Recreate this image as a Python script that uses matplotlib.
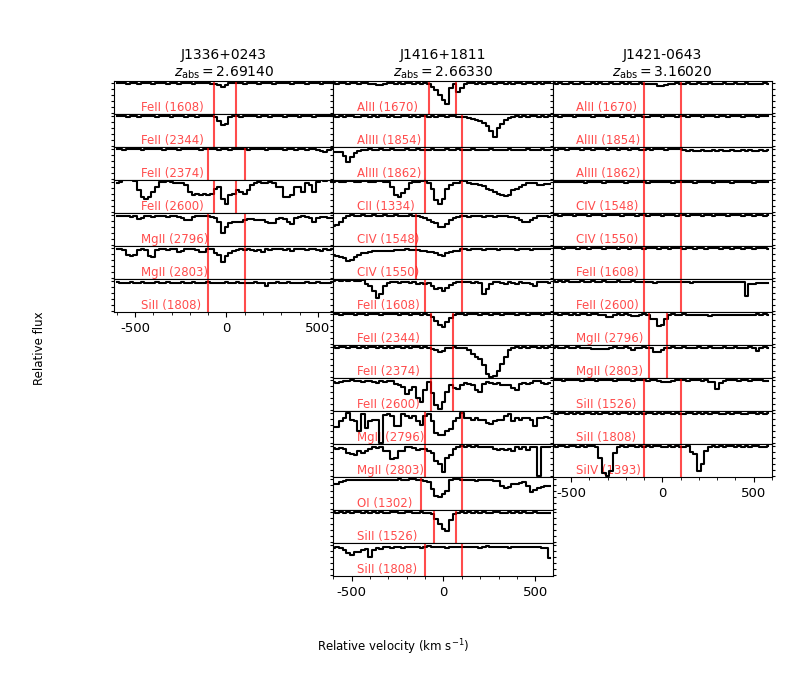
import numpy as np
import matplotlib.pyplot as plt
from matplotlib.ticker import MultipleLocator

plt.rcParams['axes.unicode_minus'] = False

# velocity grid of the binned spectra (km/s)
vel = np.arange(-600, 600, 20)

qso_names = ['J1336+0243', 'J1416+1811', 'J1421-0643']
z_abs = ['2.69140', '2.66330', '3.16020']

# ---------------- J1336+0243 ----------------
ions_j1336 = ['FeII (1608)', 'FeII (2344)', 'FeII (2374)', 'FeII (2600)',
              'MgII (2796)', 'MgII (2803)', 'SiII (1808)']
vint_j1336 = [(-70, 50), (-70, 50), (-100, 100), (-70, 50),
              (-100, 100), (-100, 100), (-100, 100)]
flux_j1336 = [
    # FeII 1608
    [1.01, 1.00, 1.02, 0.99, 1.01, 1.00, 0.98, 1.01, 1.02, 1.00,
     0.99, 1.01, 1.00, 1.02, 0.99, 1.00, 1.01, 0.99, 1.00, 1.02,
     1.01, 0.99, 1.00, 1.01, 1.02, 1.00, 0.99, 0.98, 0.96, 0.88,
     0.95, 1.01, 1.00, 1.02, 1.01, 0.99, 1.00, 1.01, 1.00, 0.99,
     1.01, 1.02, 1.00, 0.99, 1.01, 1.00, 1.02, 1.01, 0.99, 1.00,
     1.01, 1.00, 0.99, 1.01, 1.02, 1.00, 0.98, 1.00, 1.01, 1.00],
    # FeII 2344
    [1.02, 1.00, 1.01, 0.99, 1.02, 1.01, 0.99, 1.00, 1.01, 1.02,
     1.00, 0.98, 1.01, 1.00, 1.02, 0.99, 1.01, 1.00, 1.01, 0.99,
     1.02, 1.00, 0.99, 1.01, 1.00, 1.02, 1.00, 0.99, 0.86, 0.70,
     0.74, 0.97, 1.00, 1.01, 0.99, 1.01, 1.00, 1.02, 1.00, 0.99,
     1.01, 1.00, 0.98, 1.00, 1.01, 1.00, 0.99, 1.01, 1.02, 1.00,
     0.99, 1.00, 1.01, 1.00, 0.98, 1.01, 1.00, 1.02, 1.00, 1.01],
    # FeII 2374
    [1.01, 1.00, 0.99, 1.01, 1.02, 1.00, 1.01, 0.99, 1.00, 1.01,
     1.00, 1.02, 1.01, 0.99, 1.00, 1.01, 1.00, 0.99, 1.01, 1.00,
     1.02, 1.01, 1.00, 0.99, 1.01, 1.00, 1.02, 1.00, 0.98, 1.00,
     1.01, 0.99, 1.00, 1.02, 1.01, 1.00, 0.99, 1.01, 1.00, 1.01,
     1.00, 0.99, 1.01, 1.00, 1.02, 1.00, 0.99, 1.01, 1.00, 0.98,
     1.00, 1.01, 0.99, 1.00, 1.01, 0.99, 0.95, 0.90, 0.99, 1.01],
    # FeII 2600
    [0.965, 1.02, 1.08, 1.08, 1.08, 1.045, 0.73, 0.50, 0.445, 0.50,
     0.68, 0.85, 1.02, 1.02, 1.045, 1.02, 0.99, 0.99, 0.965, 0.91,
     0.68, 0.56, 0.62, 0.56, 0.595, 0.56, 0.62, 0.79, 0.85, 0.445,
     0.27, 0.56, 0.62, 0.73, 0.68, 0.62, 0.73, 0.91, 0.965, 1.02,
     0.99, 0.965, 1.02, 0.965, 0.85, 0.85, 0.50, 0.50, 0.56, 0.85,
     0.85, 0.68, 0.965, 0.91, 0.68, 1.02, 1.08, 1.045, 1.08, 1.02],
    # MgII 2796
    [0.965, 0.99, 0.965, 0.965, 0.94, 0.965, 0.87, 0.91, 0.99, 0.965,
     0.94, 0.99, 0.965, 0.99, 0.94, 0.965, 0.99, 0.94, 0.91, 0.85,
     0.85, 0.94, 0.965, 0.965, 0.99, 0.965, 0.94, 0.91, 0.76, 0.41,
     0.62, 0.73, 0.76, 0.79, 0.79, 0.85, 0.87, 0.87, 0.85, 0.83,
     0.85, 0.79, 0.73, 0.73, 0.87, 0.91, 0.87, 0.79, 0.71, 0.91,
     0.94, 0.965, 0.94, 0.91, 0.79, 0.91, 0.94, 0.94, 0.91, 0.91],
    # MgII 2803
    [0.965, 0.99, 0.94, 0.76, 0.73, 0.79, 0.94, 0.965, 0.94, 0.73,
     0.71, 0.94, 0.99, 0.965, 0.94, 0.965, 0.99, 0.87, 0.91, 0.99,
     0.965, 0.99, 0.94, 0.87, 0.87, 0.965, 0.99, 0.83, 0.76, 0.525,
     0.73, 0.85, 0.91, 0.94, 0.965, 0.94, 0.965, 0.94, 0.91, 0.94,
     0.87, 0.965, 0.94, 0.965, 0.99, 0.965, 0.94, 0.965, 0.91, 0.965,
     0.99, 0.965, 0.94, 0.965, 0.99, 0.94, 0.895, 0.965, 0.94, 0.965],
    # SiII 1808
    [0.97, 0.95, 0.96, 0.94, 0.97, 0.96, 0.95, 0.97, 0.96, 0.94,
     0.96, 0.97, 0.95, 0.96, 0.97, 0.94, 0.96, 0.95, 0.97, 0.96,
     0.95, 0.97, 0.96, 0.94, 0.96, 0.97, 0.95, 0.96, 0.94, 0.96,
     0.97, 0.95, 0.96, 0.97, 0.95, 0.96, 0.94, 0.96, 0.97, 0.95,
     0.93, 0.86, 0.94, 0.96, 0.97, 0.95, 0.96, 0.97, 0.95, 0.96,
     0.94, 0.96, 0.97, 0.95, 0.96, 0.97, 0.94, 0.96, 0.95, 0.97],
]

# ---------------- J1416+1811 ----------------
ions_j1416 = ['AlII (1670)', 'AlIII (1854)', 'AlIII (1862)', 'CII (1334)',
              'CIV (1548)', 'CIV (1550)', 'FeII (1608)', 'FeII (2344)',
              'FeII (2374)', 'FeII (2600)', 'MgII (2796)', 'MgII (2803)',
              'OI (1302)', 'SiII (1526)', 'SiII (1808)']
vint_j1416 = [(-80, 70), (-100, 100), (-100, 100), (-100, 100),
              (-150, 100), (-150, 100), (-100, 100), (-70, 50),
              (-70, 50), (-70, 50), (-100, 100), (-100, 100),
              (-120, 100), (-50, 70), (-100, 100)]
flux_j1416 = [
    # AlII 1670
    [1.00, 0.99, 1.01, 1.00, 0.98, 1.00, 1.01, 0.99, 1.00, 1.01,
     0.98, 0.99, 0.96, 0.95, 0.99, 1.00, 1.01, 0.99, 1.00, 0.98,
     1.00, 1.01, 0.99, 1.00, 0.98, 1.00, 0.99, 0.88, 0.76, 0.62,
     0.45, 0.31, 0.85, 0.99, 0.71, 0.83, 0.99, 1.00, 1.01, 0.99,
     1.00, 0.98, 1.00, 1.01, 0.99, 1.00, 1.01, 0.98, 1.00, 0.99,
     1.01, 1.00, 0.99, 1.00, 1.01, 0.99, 1.00, 0.98, 1.00, 1.01],
    # AlIII 1854
    [1.00, 0.99, 1.01, 0.98, 1.00, 1.01, 0.99, 0.98, 1.00, 1.01,
     0.99, 1.00, 0.98, 1.00, 1.01, 0.99, 1.00, 0.98, 0.99, 1.01,
     1.00, 0.98, 1.00, 0.99, 1.01, 1.00, 0.98, 1.00, 0.99, 1.00,
     1.01, 0.99, 1.00, 1.01, 0.99, 0.98, 0.965, 0.94, 0.91, 0.87,
     0.83, 0.76, 0.68, 0.50, 0.29, 0.62, 0.73, 0.87, 0.94, 0.99,
     1.00, 0.98, 1.00, 0.99, 1.01, 1.00, 0.99, 1.00, 0.98, 1.00],
    # AlIII 1862
    [0.91, 0.92, 0.90, 0.79, 0.56, 0.73, 0.87, 0.94, 0.97, 0.99,
     1.00, 0.98, 0.99, 1.00, 0.97, 0.99, 1.00, 0.98, 0.99, 0.97,
     1.00, 0.99, 0.98, 1.00, 0.99, 0.97, 0.99, 1.00, 0.98, 0.99,
     0.97, 1.00, 0.99, 0.98, 1.00, 0.99, 0.97, 0.99, 1.00, 0.98,
     0.99, 0.97, 0.99, 1.00, 0.98, 0.99, 0.97, 0.99, 1.00, 0.98,
     0.99, 0.97, 0.99, 1.00, 0.98, 0.99, 0.98, 1.00, 0.99, 0.98],
    # CII 1334
    [1.02, 1.03, 1.00, 1.02, 1.04, 1.03, 1.01, 1.02, 1.03, 1.04,
     1.02, 1.01, 1.03, 1.04, 1.02, 1.01, 0.83, 0.56, 0.50, 0.64,
     0.79, 0.99, 1.02, 1.02, 1.045, 1.045, 0.99, 0.79, 0.39, 0.25,
     0.445, 0.79, 0.91, 0.965, 0.99, 1.045, 1.045, 0.99, 0.94, 0.94,
     0.91, 0.87, 0.79, 0.73, 0.68, 0.62, 0.56, 0.525, 0.56, 0.73,
     0.79, 0.83, 0.91, 0.965, 0.99, 0.965, 0.91, 0.91, 0.94, 0.94],
    # CIV 1548
    [0.65, 0.68, 0.79, 0.91, 0.965, 1.00, 0.99, 0.97, 1.00, 0.98,
     0.99, 1.01, 0.98, 0.99, 1.00, 0.97, 0.99, 1.00, 0.98, 0.99,
     0.97, 1.00, 0.98, 0.99, 0.94, 0.91, 0.85, 0.79, 0.73, 0.62,
     0.595, 0.71, 0.83, 0.91, 0.94, 0.97, 0.99, 0.96, 0.98, 0.99,
     0.97, 0.95, 0.98, 0.99, 0.96, 0.98, 0.97, 0.99, 0.96, 0.95,
     0.91, 0.83, 0.79, 0.76, 0.83, 0.91, 0.965, 0.99, 0.965, 0.94],
    # CIV 1550
    [0.76, 0.73, 0.71, 0.68, 0.56, 0.595, 0.71, 0.76, 0.83, 0.85,
     0.87, 0.895, 0.91, 0.895, 0.92, 0.91, 0.92, 0.93, 0.94, 0.94,
     0.965, 0.95, 0.94, 0.94, 0.92, 0.91, 0.87, 0.87, 0.83, 0.76,
     0.73, 0.83, 0.87, 0.91, 0.91, 0.97, 0.99, 0.96, 0.98, 0.97,
     0.99, 0.96, 0.98, 0.99, 0.97, 0.96, 0.98, 0.99, 0.97, 0.98,
     0.96, 0.99, 0.97, 0.98, 0.96, 0.99, 0.97, 0.98, 0.99, 0.97],
    # FeII 1608
    [1.02, 1.04, 1.00, 1.03, 1.01, 1.04, 1.02, 1.00, 1.03, 0.91,
     0.83, 0.68, 0.445, 0.56, 0.85, 0.94, 0.99, 0.965, 0.94, 0.99,
     0.965, 0.94, 0.965, 0.91, 0.94, 0.91, 0.94, 0.85, 0.73, 0.79,
     0.68, 0.76, 0.87, 0.94, 0.965, 0.99, 0.965, 0.99, 0.94, 0.965,
     0.94, 0.56, 0.73, 0.91, 0.965, 0.99, 0.94, 0.91, 0.965, 0.94,
     0.92, 0.965, 0.94, 0.94, 0.91, 0.83, 0.965, 0.99, 0.965, 0.94],
    # FeII 2344
    [1.00, 1.01, 0.99, 1.00, 1.02, 1.00, 0.99, 1.01, 1.00, 0.98,
     1.00, 1.01, 1.00, 0.99, 1.01, 1.00, 1.02, 1.00, 0.99, 1.01,
     1.00, 0.99, 1.01, 1.00, 0.99, 1.01, 0.99, 0.91, 0.79, 0.64,
     0.56, 0.73, 0.87, 0.99, 1.00, 1.01, 0.99, 1.00, 1.01, 1.00,
     0.99, 1.01, 1.00, 0.98, 1.00, 1.01, 0.99, 1.00, 1.01, 1.00,
     0.99, 1.00, 1.01, 0.99, 1.00, 1.01, 1.00, 0.99, 1.01, 1.00],
    # FeII 2374
    [1.00, 0.99, 1.01, 1.00, 0.98, 1.00, 1.01, 0.99, 1.00, 0.98,
     1.00, 1.01, 0.99, 1.00, 0.98, 1.00, 0.99, 1.01, 1.00, 0.99,
     1.00, 0.98, 1.00, 1.01, 0.99, 1.00, 0.98, 0.94, 0.91, 0.85,
     0.87, 0.965, 0.99, 1.00, 0.99, 0.99, 0.965, 0.91, 0.76, 0.68,
     0.595, 0.41, 0.10, -0.02, 0.02, 0.215, 0.445, 0.68, 0.91, 0.99,
     1.00, 0.98, 1.00, 0.99, 1.01, 1.00, 0.99, 1.00, 0.98, 1.00],
    # FeII 2600
    [0.94, 0.92, 0.94, 0.965, 0.965, 1.01, 0.965, 0.99, 0.94, 0.965,
     0.99, 0.94, 0.91, 0.965, 0.94, 0.99, 0.965, 0.87, 0.85, 0.79,
     0.525, 0.68, 0.79, 0.39, 0.25, 0.68, 0.94, 0.56, 0.16, 0.02,
     0.27, 0.62, 0.83, 0.73, 0.71, 0.85, 0.91, 0.87, 0.85, 0.68,
     0.595, 0.87, 0.94, 0.91, 0.87, 0.895, 0.85, 0.83, 0.85, 0.73,
     0.68, 0.87, 0.91, 0.87, 0.91, 0.965, 0.99, 0.91, 0.87, 0.91],
    # MgII 2796
    [0.54, 0.54, 0.73, 0.85, 1.02, 0.79, 0.73, 0.39, 0.965, 0.50,
     0.73, 0.76, 0.79, -0.02, 0.94, 0.965, 0.91, 0.56, 0.56, 0.99,
     0.91, 0.85, 0.91, 0.73, 0.595, 0.91, 0.99, 0.73, 0.33, 0.25,
     0.27, 0.41, 0.48, 0.73, 0.85, 1.02, 0.83, 0.83, 0.79, 0.83,
     0.79, 0.76, 0.68, 0.64, 0.73, 0.76, 0.79, 0.91, 0.99, 0.73,
     0.83, 0.79, 0.85, 0.83, 0.79, 0.56, 0.83, 0.85, 0.87, 0.85],
    # MgII 2803
    [0.94, 0.91, 0.94, 0.91, 0.79, 0.73, 0.71, 0.83, 0.79, 0.85,
     0.91, 0.965, 0.94, 0.965, 0.85, 0.83, 0.56, 0.62, 0.83, 0.85,
     0.965, 0.99, 0.94, 0.87, 0.91, 0.92, 0.85, 0.79, 0.50, 0.39,
     0.135, 0.62, 0.71, 0.91, 0.99, 1.01, 0.99, 1.02, 0.99, 1.01,
     0.99, 0.965, 0.99, 0.965, 0.91, 0.87, 0.91, 0.87, 0.91, 0.85,
     0.965, 0.91, 0.99, 0.87, 0.965, 0.965, -0.02, 0.965, 0.99, 0.965],
    # OI 1302
    [0.83, 0.83, 0.91, 0.94, 0.965, 0.99, 0.99, 0.965, 0.99, 0.99,
     0.965, 0.99, 0.99, 0.99, 0.965, 0.99, 0.99, 0.99, 1.01, 0.99,
     0.99, 1.01, 1.01, 0.99, 0.965, 0.94, 0.91, 0.68, 0.445, 0.41,
     0.50, 0.62, 0.965, 1.01, 1.02, 0.99, 0.99, 0.965, 0.965, 0.94,
     0.965, 0.99, 0.965, 0.965, 0.94, 0.94, 0.76, 0.71, 0.73, 0.83,
     0.85, 0.87, 0.91, 0.76, 0.56, 0.64, 0.71, 0.73, 0.76, 0.76],
    # SiII 1526
    [1.00, 0.98, 1.01, 0.99, 1.00, 0.97, 1.00, 1.01, 0.98, 1.00,
     0.99, 1.01, 0.98, 1.00, 0.99, 0.97, 1.00, 1.01, 0.99, 0.98,
     1.00, 1.01, 0.99, 0.98, 1.00, 0.99, 0.97, 0.94, 0.76, 0.62,
     0.445, 0.365, 0.73, 0.94, 0.99, 1.00, 0.98, 1.01, 0.99, 1.00,
     0.98, 1.01, 0.99, 0.97, 1.00, 1.01, 0.99, 0.98, 1.00, 0.99,
     1.01, 0.98, 1.00, 0.99, 0.97, 1.00, 0.99, 0.98, 0.97, 0.99],
    # SiII 1808
    [0.91, 0.94, 0.91, 0.83, 0.73, 0.68, 0.76, 0.79, 0.83, 0.87,
     0.62, 0.83, 0.91, 0.87, 0.93, 0.95, 0.92, 0.96, 0.94, 0.92,
     0.95, 0.93, 0.96, 0.94, 0.92, 0.95, 0.97, 0.94, 0.93, 0.96,
     0.94, 0.92, 0.95, 0.93, 0.96, 0.94, 0.95, 0.93, 0.96, 0.94,
     0.92, 0.95, 0.97, 0.94, 0.93, 0.95, 0.96, 0.94, 0.92, 0.95,
     0.93, 0.96, 0.94, 0.95, 0.93, 0.96, 0.94, 0.92, 0.90, 0.56],
]

# ---------------- J1421-0643 ----------------
ions_j1421 = ['AlII (1670)', 'AlIII (1854)', 'AlIII (1862)', 'CIV (1548)',
              'CIV (1550)', 'FeII (1608)', 'FeII (2600)', 'MgII (2796)',
              'MgII (2803)', 'SiII (1526)', 'SiII (1808)', 'SiIV (1393)']
vint_j1421 = [(-100, 100)] * 7 + [(-75, 25), (-75, 25)] + [(-100, 100)] * 3
flux_j1421 = [
    # AlII 1670
    [1.00, 0.99, 1.00, 0.98, 0.99, 1.00, 0.99, 0.98, 1.00, 0.99,
     0.98, 1.00, 0.99, 1.00, 0.98, 0.99, 1.00, 0.99, 0.98, 1.00,
     0.99, 1.00, 0.98, 0.99, 1.00, 0.99, 0.98, 0.99, 0.97, 0.92,
     0.91, 0.93, 0.98, 0.99, 1.00, 0.99, 0.98, 1.00, 0.99, 0.98,
     1.00, 0.99, 0.98, 1.00, 0.99, 0.97, 0.99, 1.00, 0.98, 0.99,
     1.00, 0.98, 0.99, 1.00, 0.99, 0.98, 0.97, 0.99, 1.00, 0.99],
    # AlIII 1854
    [1.00, 1.01, 0.99, 1.00, 1.01, 1.00, 0.99, 1.01, 1.00, 1.00,
     1.01, 0.99, 1.00, 1.01, 1.00, 0.99, 1.00, 1.01, 1.00, 0.99,
     1.01, 1.00, 0.99, 1.00, 1.01, 0.99, 0.98, 1.00, 1.01, 1.00,
     0.99, 1.00, 1.01, 1.00, 0.99, 1.01, 1.00, 0.99, 1.00, 1.01,
     1.00, 0.99, 1.01, 1.00, 1.00, 0.99, 1.01, 1.00, 0.99, 1.00,
     1.01, 1.00, 0.99, 1.00, 1.01, 1.00, 0.99, 1.00, 1.01, 1.00],
    # AlIII 1862
    [1.00, 0.99, 1.01, 1.00, 0.99, 1.00, 1.01, 1.00, 0.99, 1.00,
     1.01, 0.99, 1.00, 1.00, 1.01, 0.99, 1.00, 1.01, 0.99, 1.00,
     1.00, 0.99, 1.01, 1.00, 0.98, 0.99, 1.00, 0.99, 1.00, 1.01,
     1.00, 0.99, 1.00, 1.01, 1.00, 1.02, 0.97, 0.96, 0.97, 0.95,
     0.96, 0.97, 0.96, 0.95, 0.97, 0.96, 0.97, 0.95, 0.96, 0.97,
     0.96, 0.95, 0.97, 0.96, 0.97, 0.96, 0.95, 0.97, 0.96, 0.97],
    # CIV 1548
    [1.01, 1.00, 1.02, 1.01, 1.00, 1.01, 1.02, 1.00, 1.01, 0.99,
     1.01, 1.02, 1.00, 1.01, 0.99, 1.01, 1.02, 1.00, 1.01, 1.00,
     0.98, 1.01, 1.00, 1.02, 1.01, 1.00, 0.99, 1.01, 1.00, 1.02,
     1.01, 1.00, 1.01, 0.99, 1.01, 1.02, 1.00, 1.01, 1.00, 0.99,
     1.01, 1.02, 1.00, 1.01, 0.99, 1.01, 1.00, 1.02, 1.01, 0.99,
     1.00, 1.01, 1.02, 1.00, 1.01, 0.99, 1.01, 1.00, 1.02, 1.01],
    # CIV 1550
    [1.00, 1.01, 0.99, 1.00, 1.01, 1.00, 0.99, 1.01, 1.02, 1.00,
     0.99, 1.00, 1.01, 1.00, 0.99, 1.01, 1.00, 1.00, 1.01, 0.99,
     1.00, 1.01, 1.00, 0.99, 1.00, 1.01, 0.99, 1.00, 1.01, 1.00,
     0.99, 1.01, 1.00, 1.00, 0.99, 1.01, 1.00, 0.99, 1.01, 1.00,
     1.00, 0.99, 1.01, 1.00, 0.99, 1.00, 1.01, 1.00, 0.99, 1.00,
     1.01, 1.00, 0.99, 1.01, 1.00, 0.99, 1.00, 1.01, 0.99, 1.00],
    # FeII 1608
    [1.01, 1.00, 1.01, 0.99, 1.00, 1.01, 1.00, 0.99, 1.01, 1.00,
     0.98, 1.00, 1.01, 1.00, 0.99, 1.01, 1.00, 1.00, 0.99, 1.01,
     1.00, 0.99, 1.00, 1.01, 1.00, 0.98, 1.00, 1.01, 1.00, 0.99,
     1.00, 1.01, 0.99, 1.00, 1.01, 1.00, 0.99, 1.00, 1.01, 0.99,
     1.00, 1.00, 0.98, 1.00, 1.01, 1.00, 0.99, 1.01, 1.00, 0.99,
     1.01, 1.00, 0.99, 1.00, 1.01, 0.98, 1.00, 1.01, 1.00, 0.99],
    # FeII 2600
    [1.00, 0.99, 1.00, 0.98, 1.00, 0.99, 0.97, 0.99, 1.00, 0.98,
     0.99, 1.00, 0.98, 0.99, 1.00, 0.97, 0.99, 0.98, 1.00, 0.99,
     0.97, 0.99, 1.00, 0.98, 0.99, 0.97, 0.99, 0.98, 0.96, 0.97,
     0.99, 0.98, 0.97, 0.99, 0.98, 0.97, 0.99, 0.98, 0.96, 0.99,
     0.98, 0.99, 0.97, 0.98, 0.99, 0.98, 0.97, 0.99, 0.98, 0.97,
     0.99, 0.98, 0.97, 0.50, 0.91, 0.92, 0.94, 0.93, 0.94, 0.93],
    # MgII 2796
    [1.00, 1.01, 0.99, 1.00, 1.01, 0.99, 1.00, 0.99, 1.01, 1.00,
     0.99, 1.00, 1.01, 0.99, 0.98, 0.91, 0.92, 0.98, 1.00, 0.99,
     1.00, 0.99, 0.95, 0.94, 0.99, 1.01, 0.98, 0.86, 0.84, 0.62,
     0.63, 0.85, 0.99, 1.00, 0.98, 0.99, 1.00, 0.97, 0.98, 0.99,
     0.97, 0.98, 0.99, 0.96, 0.97, 0.98, 0.97, 0.99, 0.98, 0.97,
     0.99, 0.98, 0.97, 0.98, 0.99, 0.97, 1.00, 0.99, 1.00, 0.99],
    # MgII 2803
    [0.99, 1.00, 0.98, 0.99, 1.00, 0.99, 0.98, 1.00, 0.99, 0.98,
     0.99, 0.94, 0.95, 0.94, 0.95, 0.93, 0.99, 1.00, 0.98, 0.99,
     1.00, 0.98, 0.91, 0.97, 0.99, 1.00, 0.98, 0.99, 0.84, 0.83,
     0.92, 0.98, 0.99, 1.00, 0.98, 0.99, 1.00, 0.99, 0.98, 0.99,
     1.00, 0.98, 0.99, 1.00, 0.99, 0.98, 0.99, 1.00, 0.98, 0.99,
     1.00, 0.99, 0.98, 0.99, 1.00, 0.98, 0.89, 0.99, 1.00, 0.98],
    # SiII 1526
    [1.01, 1.00, 1.01, 0.99, 1.00, 1.01, 1.00, 1.01, 0.99, 1.00,
     1.01, 1.00, 0.99, 1.01, 1.00, 1.01, 1.00, 0.99, 1.01, 1.00,
     1.00, 1.01, 0.99, 1.00, 1.01, 1.00, 0.99, 1.00, 1.01, 0.99,
     0.95, 0.94, 0.95, 0.99, 1.00, 1.01, 1.00, 0.99, 1.00, 1.01,
     1.00, 0.99, 1.00, 0.95, 0.94, 0.70, 0.92, 0.99, 1.00, 1.01,
     1.00, 0.99, 1.01, 1.00, 0.99, 1.00, 1.01, 1.00, 0.99, 0.97],
    # SiII 1808
    [1.00, 0.99, 1.00, 1.01, 0.99, 1.00, 0.98, 1.00, 0.99, 1.01,
     1.00, 0.99, 1.00, 0.98, 1.00, 1.01, 0.99, 1.00, 0.99, 1.00,
     1.01, 0.99, 1.00, 0.98, 1.00, 0.99, 1.01, 1.00, 0.99, 1.00,
     0.98, 1.00, 1.01, 0.99, 1.00, 0.99, 0.98, 1.00, 1.01, 0.99,
     1.00, 0.98, 1.00, 0.99, 1.01, 1.00, 0.99, 0.98, 1.00, 0.99,
     1.01, 1.00, 0.98, 0.99, 1.00, 1.01, 0.99, 1.00, 0.98, 1.00],
    # SiIV 1393
    [1.00, 0.99, 1.01, 1.00, 0.98, 1.00, 1.01, 0.99, 1.00, 0.98,
     1.00, 1.01, 0.99, 0.62, 0.10, 0.00, 0.16, 0.79, 0.99, 1.00,
     0.98, 1.00, 1.01, 0.99, 1.00, 0.98, 1.00, 0.99, 1.01, 1.00,
     0.99, 0.98, 1.00, 0.99, 1.00, 0.98, 0.99, 1.00, 0.82, 0.73,
     0.18, 0.39, 0.85, 0.99, 1.00, 0.99, 1.00, 0.98, 1.00, 1.01,
     0.99, 1.00, 0.98, 1.00, 0.99, 1.01, 1.00, 0.99, 0.98, 1.00],
]

columns = [(ions_j1336, vint_j1336, flux_j1336),
           (ions_j1416, vint_j1416, flux_j1416),
           (ions_j1421, vint_j1421, flux_j1421)]
xlims = [(-615, 585), (-600, 595), (-600, 600)]

fig = plt.figure(figsize=(7.88, 6.78), dpi=100)
gs = fig.add_gridspec(15, 3, left=0.1447, right=0.9797, top=0.8805,
                      bottom=0.1504, hspace=0, wspace=0)

for c, (ions, vint, fluxes) in enumerate(columns):
    n = len(ions)
    for r in range(n):
        ax = fig.add_subplot(gs[r, c])
        ax.plot(vel, fluxes[r], color='k', lw=1.5, drawstyle='steps-mid')
        for v in vint[r]:
            ax.axvline(v, color='r', alpha=0.7, lw=1.5)
        ax.text(-470, 0.09, ions[r], color='r', alpha=0.7, fontsize=8.5,
                transform=ax.get_xaxis_transform(), zorder=1)
        ax.set_xlim(*xlims[c])
        ax.set_ylim(-0.04, 1.08)
        ax.xaxis.set_major_locator(MultipleLocator(500))
        ax.xaxis.set_minor_locator(MultipleLocator(100))
        ax.yaxis.set_major_locator(MultipleLocator(0.2))
        ax.tick_params(axis='y', which='both', left=True, right=True,
                       labelleft=False, length=2)
        if r == 0:
            ax.set_title(qso_names[c] + '\n' + r'$z_{\rm abs} = ' + z_abs[c] + '$',
                         fontsize=10, pad=3)
        if r < n - 1:
            ax.tick_params(axis='x', which='both', bottom=False, labelbottom=False)
        else:
            ax.tick_params(axis='x', which='major', labelsize=9.5)

fig.text(0.05, 0.487, 'Relative flux', rotation=90, ha='center', va='center',
         fontsize=8.5)
fig.text(0.499, 0.046, r'Relative velocity (km s$^{-1}$)', ha='center',
         va='center', fontsize=8.5)

fig.savefig('out.png', dpi=100)
